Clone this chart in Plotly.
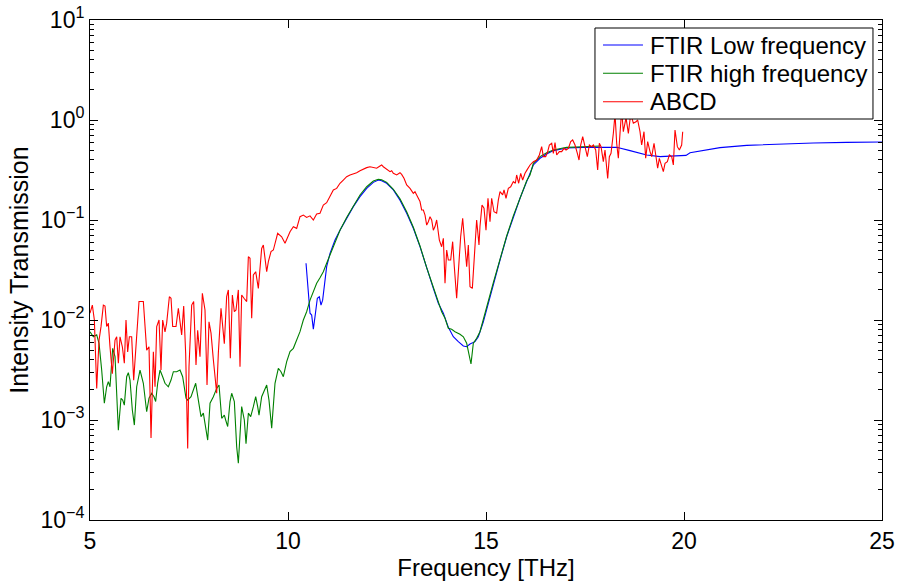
import plotly.graph_objects as go

# ---------------- data ----------------
abcd_freq = [5.00, 5.059, 5.110, 5.169, 5.228, 5.278, 5.337, 5.379, 5.421, 5.463, 5.505, 5.564, 5.632, 5.674,
             5.716, 5.758, 5.817, 5.867, 5.909, 5.951, 5.994, 6.052, 6.103, 6.179, 6.238, 6.347, 6.431, 6.490,
             6.541, 6.600, 6.642, 6.684, 6.743, 6.793, 6.835, 6.894, 6.936, 7.004, 7.046, 7.088, 7.172, 7.231,
             7.315, 7.366, 7.416, 7.467, 7.500, 7.568, 7.618, 7.677, 7.719, 7.778, 7.837, 7.904, 7.955, 8.005,
             8.056, 8.115, 8.199, 8.241, 8.308, 8.392, 8.451, 8.494, 8.544, 8.595, 8.645, 8.687, 8.746, 8.788,
             8.830, 8.889, 8.957, 8.999, 9.041, 9.083, 9.125, 9.184, 9.251, 9.335, 9.377, 9.462, 9.504, 9.571,
             9.630, 9.739, 9.798, 9.840, 9.925, 10.051, 10.135, 10.219, 10.303, 10.387,
             10.471, 10.556, 10.640, 10.724, 10.808, 10.892, 10.976, 11.061, 11.145, 11.229, 11.313, 11.397,
             11.481, 11.566, 11.650, 11.734, 11.818, 11.902, 11.987, 12.071, 12.155, 12.239, 12.323, 12.365,
             12.407, 12.492, 12.576, 12.618, 12.660, 12.744, 12.828, 12.870, 12.929, 12.997, 13.081, 13.165,
             13.207, 13.249, 13.333, 13.375, 13.418, 13.460, 13.502, 13.544, 13.586, 13.628, 13.670, 13.712,
             13.754, 13.822, 13.880, 13.923, 13.965, 14.007, 14.049, 14.108, 14.158, 14.200, 14.259, 14.310,
             14.360, 14.411, 14.470, 14.512, 14.554, 14.596, 14.655, 14.697, 14.764, 14.823, 14.848, 14.899,
             14.950, 15.000, 15.050, 15.101, 15.143, 15.202, 15.269, 15.311, 15.354, 15.421, 15.455, 15.505,
             15.564, 15.623, 15.690, 15.741, 15.774, 15.825, 15.876, 15.926, 15.985, 16.044,
             16.112, 16.196, 16.280, 16.347, 16.406, 16.448, 16.507, 16.558, 16.600, 16.659, 16.701, 16.743,
             16.785, 16.852, 16.911, 16.970, 17.021, 17.080, 17.139, 17.189, 17.248, 17.307, 17.349, 17.391,
             17.442, 17.500, 17.559, 17.610, 17.669, 17.711, 17.770, 17.820, 17.862, 17.905, 17.963, 18.005,
             18.073, 18.115, 18.157, 18.216, 18.258, 18.300, 18.342, 18.384, 18.426, 18.468, 18.536, 18.595,
             18.654, 18.721, 18.788, 18.830, 18.889, 18.931, 18.990, 19.032, 19.083, 19.142, 19.184, 19.243,
             19.293, 19.335, 19.377, 19.436, 19.478, 19.521, 19.580, 19.630, 19.689, 19.731, 19.773, 19.832,
             19.883, 19.941, 19.967]
abcd_trans = [0.0117, 0.0141, 0.0100, 0.00207, 0.0063, 0.00858, 0.0141, 0.0138, 0.0086, 0.0093, 0.0054, 0.0029,
              0.0063, 0.0068, 0.0037, 0.0068, 0.0054, 0.0037, 0.0100, 0.0048, 0.0068, 0.0068, 0.0025, 0.0079,
              0.0153, 0.0153, 0.0050, 0.0054, 0.00066, 0.0048, 0.00215, 0.0086, 0.0100, 0.00316, 0.0100, 0.0076,
              0.0093, 0.0171, 0.0165, 0.0086, 0.0086, 0.0131, 0.0071, 0.0138, 0.00464, 0.00052, 0.0034, 0.0141,
              0.0153, 0.00355, 0.0079, 0.0043, 0.0185, 0.0126, 0.00224, 0.0096, 0.0074, 0.0040, 0.00185, 0.00464,
              0.0131, 0.0058, 0.0171, 0.0200, 0.00414, 0.0178, 0.0121, 0.0126, 0.0200, 0.0034, 0.0178, 0.0165,
              0.0153, 0.043, 0.0414, 0.0104, 0.0282, 0.0304, 0.0207, 0.052, 0.0562, 0.0304, 0.0383, 0.0483,
              0.0501, 0.0736, 0.0708, 0.068, 0.0585, 0.0764, 0.0858, 0.0825, 0.108, 0.112,
              0.106, 0.110, 0.100, 0.115, 0.117, 0.141, 0.149, 0.171, 0.200, 0.207, 0.233, 0.251,
              0.271, 0.282, 0.288, 0.297, 0.311, 0.324, 0.334, 0.341, 0.334, 0.329, 0.347, 0.355,
              0.341, 0.321, 0.304, 0.311, 0.293, 0.282, 0.297, 0.286, 0.261, 0.224, 0.207, 0.185,
              0.192, 0.178, 0.153, 0.126, 0.126, 0.112, 0.089, 0.096, 0.108, 0.100, 0.079, 0.086,
              0.100, 0.063, 0.054, 0.0656, 0.0233, 0.050, 0.0398, 0.0398, 0.0607, 0.0341, 0.0165, 0.0341,
              0.068, 0.104, 0.054, 0.0341, 0.0562, 0.0215, 0.0207, 0.0398, 0.100, 0.0562, 0.086, 0.141,
              0.131, 0.079, 0.165, 0.096, 0.165, 0.121, 0.117, 0.158, 0.192, 0.178, 0.200, 0.165,
              0.207, 0.215, 0.242, 0.233, 0.282, 0.233, 0.293, 0.251, 0.293, 0.321,
              0.355, 0.383, 0.398, 0.447, 0.541, 0.430, 0.430, 0.483, 0.562, 0.585, 0.464, 0.593,
              0.447, 0.483, 0.483, 0.521, 0.501, 0.521, 0.607, 0.631, 0.562, 0.464, 0.398, 0.562,
              0.681, 0.541, 0.430, 0.562, 0.541, 0.562, 0.501, 0.316, 0.585, 0.541, 0.383, 0.501,
              0.261, 0.430, 0.464, 0.736, 1.15, 0.585, 0.414, 0.736, 1.25, 0.764, 1.05, 0.736,
              1.15, 0.93, 0.96, 1.0, 0.764, 0.562, 0.764, 0.414, 0.607, 0.483, 0.430, 0.585,
              0.447, 0.329, 0.414, 0.355, 0.304, 0.369, 0.383, 0.447, 0.430, 0.355, 0.794, 0.541,
              0.501, 0.562, 0.764]

ftir_low_freq = [10.455, 10.513, 10.556, 10.598, 10.640, 10.682, 10.741, 10.791, 10.833, 10.875, 10.918, 10.976,
                 11.061, 11.187, 11.313, 11.481, 11.650, 11.818, 11.987, 12.155, 12.281, 12.365, 12.492, 12.660,
                 12.828, 12.997, 13.165, 13.333, 13.502, 13.670, 13.796, 13.923, 14.049, 14.175, 14.301, 14.428,
                 14.512, 14.596, 14.722, 14.806, 14.933, 15.059, 15.185, 15.354, 15.522, 15.690, 15.859, 16.027,
                 16.112, 16.196, 16.364, 16.532, 16.701, 16.869, 17.037, 17.458, 17.879, 18.300, 18.637, 19.058,
                 19.394, 19.731, 20.051, 20.152, 20.404, 20.909, 21.583, 22.424, 23.266, 24.108, 25.0]
ftir_low_trans = [0.0369, 0.0171, 0.0117, 0.0112, 0.0081, 0.0108, 0.0165, 0.0171, 0.0141, 0.0158, 0.0215, 0.0341,
                  0.0464, 0.063, 0.079, 0.104, 0.136, 0.171, 0.207, 0.238, 0.251, 0.247, 0.233, 0.200,
                  0.158, 0.117, 0.0826, 0.0541, 0.0329, 0.0207, 0.0147, 0.0117, 0.00845, 0.0068, 0.00607, 0.0055,
                  0.0054, 0.00575, 0.00607, 0.0068, 0.0096, 0.0147, 0.0233, 0.0398, 0.068, 0.108, 0.165, 0.242,
                  0.29, 0.355, 0.414, 0.457, 0.494, 0.513, 0.525, 0.533, 0.537, 0.533, 0.494, 0.447,
                  0.430, 0.434, 0.443, 0.471, 0.490, 0.529, 0.558, 0.575, 0.589, 0.598, 0.603]

ftir_high_freq = [5.00, 5.084, 5.169, 5.228, 5.295, 5.362, 5.421, 5.463, 5.505, 5.573, 5.632, 5.716, 5.783, 5.825,
                  5.867, 5.926, 5.968, 6.010, 6.069, 6.120, 6.179, 6.263, 6.347, 6.431, 6.490, 6.557, 6.616,
                  6.658, 6.709, 6.768, 6.835, 6.894, 6.978, 7.046, 7.105, 7.189, 7.273, 7.340, 7.425, 7.467,
                  7.551, 7.610, 7.669, 7.736, 7.803, 7.862, 7.921, 7.972, 8.031, 8.115, 8.199, 8.258, 8.325,
                  8.392, 8.426, 8.477, 8.536, 8.578, 8.645, 8.704, 8.746, 8.788, 8.830, 8.897, 8.940, 8.999,
                  9.058, 9.125, 9.184, 9.234, 9.268, 9.335, 9.402, 9.462, 9.520, 9.588, 9.672, 9.756, 9.823,
                  9.882, 9.967, 10.051, 10.135, 10.219, 10.303, 10.387,
                  10.471, 10.556, 10.640, 10.724, 10.808, 10.892, 10.976, 11.061, 11.187, 11.313, 11.481, 11.650,
                  11.818, 11.987, 12.155, 12.281, 12.365, 12.492, 12.660, 12.828, 12.997, 13.165, 13.333, 13.502,
                  13.670, 13.796, 13.880, 13.965, 14.049, 14.133, 14.217, 14.343, 14.428, 14.512, 14.571, 14.621,
                  14.680, 14.764, 14.848, 14.933, 15.059, 15.185, 15.354, 15.522, 15.690, 15.859, 16.027, 16.111,
                  16.196, 16.364, 16.532, 16.701, 16.869, 17.037, 17.458, 17.879]
ftir_high_trans = [0.00764, 0.0068, 0.0071, 0.00585, 0.00316, 0.00147, 0.00215, 0.00242, 0.00215, 0.00521, 0.0043,
                   0.00079, 0.00165, 0.00158, 0.00141, 0.00271, 0.00297, 0.00251, 0.00126, 0.00089, 0.00215,
                   0.00316, 0.00233, 0.00121, 0.00165, 0.00185, 0.00171, 0.00153, 0.00233, 0.00316, 0.00271,
                   0.00233, 0.00215, 0.00251, 0.00304, 0.00304, 0.00316, 0.00271, 0.00165, 0.00158, 0.00171,
                   0.0020, 0.00233, 0.00158, 0.00108, 0.00117, 0.00086, 0.00063, 0.00147, 0.00171, 0.00207,
                   0.00224, 0.00104, 0.00112, 0.0010, 0.00086, 0.00153, 0.00185, 0.00153, 0.00054, 0.00037,
                   0.00074, 0.00136, 0.0010, 0.00058, 0.00117, 0.00108, 0.00136, 0.00171, 0.00136, 0.00112,
                   0.00171, 0.0020, 0.00224, 0.00158, 0.00083, 0.00233, 0.00329, 0.00304, 0.00271, 0.00383,
                   0.00483, 0.00521, 0.0063, 0.00764, 0.0100,
                   0.0121, 0.0158, 0.0192, 0.0233, 0.0265, 0.0304, 0.0369, 0.0447, 0.0607, 0.079, 0.106, 0.138,
                   0.178, 0.215, 0.245, 0.255, 0.253, 0.238, 0.203, 0.163, 0.121, 0.0845, 0.055, 0.0334,
                   0.0211, 0.0147, 0.0121, 0.0104, 0.00826, 0.00807, 0.00764, 0.0072, 0.0068, 0.00585, 0.00464,
                   0.00363, 0.00585, 0.00656, 0.00764, 0.0100, 0.0149, 0.0236, 0.0404, 0.0692, 0.110, 0.169,
                   0.247, 0.282, 0.369, 0.430, 0.471, 0.501, 0.521, 0.533, 0.541, 0.550]

series_names = ["FTIR Low frequency", "FTIR high frequency", "ABCD"]
series_colors = ["#0000ff", "#008000", "#ff0000"]

y_tick_vals = [1e-4, 1e-3, 1e-2, 1e-1, 1e0, 1e1]
y_tick_text = ["10<sup>−4</sup>", "10<sup>−3</sup>", "10<sup>−2</sup>",
               "10<sup>−1</sup>", "10<sup>0</sup>", "10<sup>1</sup>"]
x_tick_vals = [5, 10, 15, 20, 25]
y_minor_vals = [m * 10.0 ** e for e in range(-4, 1) for m in range(2, 10)]

# ---------------- figure ----------------
FONT = "Liberation Sans, Arial, sans-serif"
fig = go.Figure()
series = [(ftir_low_freq, ftir_low_trans), (ftir_high_freq, ftir_high_trans), (abcd_freq, abcd_trans)]
for (xs, ys), name, col in zip(series, series_names, series_colors):
    fig.add_trace(go.Scatter(x=xs, y=ys, mode="lines", name=name, showlegend=False,
                             line=dict(color=col, width=1.1)))

# legend box drawn MATLAB-style (compact row spacing)
LEG_X0, LEG_X1, LEG_Y0, LEG_Y1 = 0.6376, 0.9886, 0.802, 0.984
row_y = [0.950, 0.8934, 0.8366]
shapes = [dict(type="rect", xref="paper", yref="paper", x0=LEG_X0, x1=LEG_X1, y0=LEG_Y0, y1=LEG_Y1,
               fillcolor="white", line=dict(color="black", width=1), layer="above")]
annotations = []
for name, col, yy in zip(series_names, series_colors, row_y):
    shapes.append(dict(type="line", xref="paper", yref="paper", x0=0.6477, x1=0.6982, y0=yy, y1=yy,
                       line=dict(color=col, width=1.1), layer="above"))
    annotations.append(dict(xref="paper", yref="paper", x=0.7040, y=yy, xanchor="left", yanchor="middle",
                            text=name, showarrow=False, font=dict(family=FONT, size=24, color="black")))

fig.update_layout(
    width=897, height=582,
    margin=dict(l=90, r=15, t=20, b=62),
    paper_bgcolor="white", plot_bgcolor="white",
    font=dict(family=FONT, size=23, color="black"),
    showlegend=False,
    shapes=shapes, annotations=annotations,
)
fig.update_xaxes(range=[5, 25], tickvals=x_tick_vals, ticks="inside", ticklen=8, tickcolor="black",
                 showline=True, linecolor="black", linewidth=1, mirror="ticks", showgrid=False,
                 zeroline=False, automargin=False,
                 title=dict(text="Frequency [THz]", standoff=2, font=dict(size=24)),
                 tickfont=dict(size=23))
fig.update_yaxes(type="log", range=[-4, 1], tickvals=y_tick_vals, ticktext=y_tick_text,
                 ticks="inside", ticklen=8, tickcolor="black",
                 minor=dict(tickvals=y_minor_vals, ticks="inside", ticklen=4, tickcolor="black", showgrid=False),
                 showline=True, linecolor="black", linewidth=1, mirror="ticks", showgrid=False,
                 zeroline=False, automargin=False,
                 title=dict(text="Intensity Transmission", standoff=4, font=dict(size=25)),
                 tickfont=dict(size=23))

fig.write_html("out.html")
